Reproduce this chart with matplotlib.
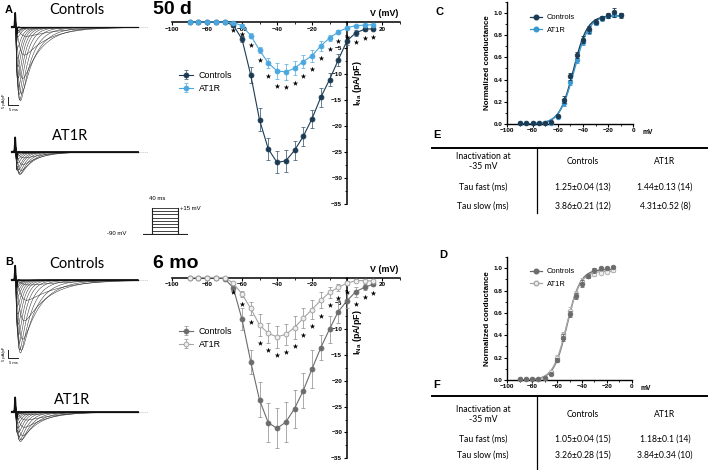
import numpy as np
import matplotlib
matplotlib.use("Agg")
import matplotlib.pyplot as plt
from matplotlib.lines import Line2D
from matplotlib.ticker import MultipleLocator, FixedLocator

# ---------------------------------------------------------------- data
volts = [-90, -85, -80, -75, -70, -65, -60, -55, -50, -45, -40, -35, -30,
         -25, -20, -15, -10, -5, 0, 5, 10, 15]

# panel A (50 d) I-V
a_ctrl = [0, 0, 0, 0, 0, -0.6, -3.3, -10.2, -18.8, -24.4, -27.0, -26.7, -24.7,
          -22.0, -18.6, -14.5, -11.1, -7.3, -3.6, -2.1, -1.4, -1.3]
a_ctrl_err = [0.1, 0.1, 0.1, 0.1, 0.1, 0.3, 0.6, 1.6, 2.2, 2.1, 2.1, 2.1, 1.9,
              1.8, 1.7, 1.8, 1.3, 1.1, 0.8, 0.5, 0.4, 0.3]
a_at1r = [0, 0, 0, 0, 0, -0.1, -0.7, -2.6, -5.4, -7.9, -9.4, -9.6, -8.9,
          -7.6, -6.5, -4.6, -3.1, -1.9, -1.1, -0.7, -0.6, -0.5]
a_at1r_err = [0.05, 0.05, 0.05, 0.05, 0.05, 0.1, 0.3, 0.5, 0.6, 1.0, 1.5, 1.5,
              1.35, 1.3, 1.1, 0.9, 0.6, 0.4, 0.3, 0.2, 0.2, 0.2]

# panel B (6 mo) I-V
b_ctrl = [0, 0, 0, 0, -0.2, -2.0, -8.1, -16.3, -23.7, -28.1, -29.2, -28.0, -25.4,
          -21.9, -17.7, -13.6, -10.0, -6.6, -4.5, -2.75, -1.9, -1.3]
b_ctrl_err = [0.1, 0.1, 0.1, 0.1, 0.2, 0.5, 2.1, 2.3, 3.4, 3.8, 3.9, 3.9, 3.7,
              3.4, 3.7, 2.4, 2.6, 2.3, 1.5, 1.0, 0.6, 0.4]
b_at1r = [0, 0, 0, 0, 0, -1.1, -3.2, -6.0, -9.2, -10.8, -11.5, -11.0, -9.7,
          -7.9, -6.2, -4.4, -2.9, -1.9, -1.1, -0.6, -0.6, -0.7]
b_at1r_err = [0.05, 0.05, 0.05, 0.05, 0.05, 0.3, 0.6, 1.3, 2.1, 1.9, 2.1, 2.0,
              2.2, 1.9, 1.8, 1.6, 1.1, 0.7, 0.4, 0.3, 0.2, 0.2]

# significant voltages (asterisks)
sig_volts = [-65, -60, -55, -50, -45, -40, -35, -30, -25, -20, -15, -10, -5,
             0, 5, 10, 15]

# representative-cell scaling of the example traces
trace_scale_a = [1.6, 1.4]
trace_scale_b = [1.47, 1.53]

# panel C conductance (50 d)
g_volts_c = [-90, -85, -80, -75, -70, -65, -60, -55, -50, -45, -40, -35, -30,
             -25, -20, -15, -10]
c_ctrl = [0.01, 0.01, 0.005, 0.005, 0.01, 0.02, 0.072, 0.22, 0.43, 0.62, 0.76,
          0.85, 0.92, 0.955, 0.976, 1.006, 0.976]
c_ctrl_err = [0.005, 0.005, 0.005, 0.005, 0.005, 0.005, 0.01, 0.03, 0.03, 0.03,
              0.03, 0.03, 0.02, 0.02, 0.02, 0.04, 0.02]
c_at1r = [0.005, 0.005, 0.005, 0.005, 0.005, 0.01, 0.06, 0.19, 0.38, 0.58, 0.74,
          0.84, 0.91, 0.95, 0.97, 0.98, 0.98]
c_at1r_err = [0.005, 0.005, 0.005, 0.005, 0.005, 0.005, 0.01, 0.03, 0.03, 0.03,
              0.03, 0.03, 0.02, 0.02, 0.02, 0.02, 0.02]
c_fit_ctrl = (-47.5, 5.5, 0.975)   # V1/2, k, Gmax
c_fit_at1r = (-46.8, 5.8, 0.975)

# panel D conductance (6 mo)
g_volts_d = [-90, -85, -80, -75, -70, -65, -60, -55, -50, -45, -40, -35, -30,
             -25, -20, -15]
d_ctrl = [0.01, 0.01, 0.01, 0.01, 0.015, 0.054, 0.18, 0.38, 0.59, 0.75, 0.86,
          0.93, 0.98, 1.0, 1.0, 1.01]
d_ctrl_err = [0.005, 0.005, 0.005, 0.005, 0.005, 0.01, 0.02, 0.03, 0.03, 0.03,
              0.03, 0.02, 0.02, 0.01, 0.01, 0.01]
d_at1r = [0.01, 0.01, 0.01, 0.01, 0.02, 0.07, 0.2, 0.40, 0.62, 0.77, 0.88, 0.93,
          0.95, 0.96, 0.97, 0.98]
d_at1r_err = [0.005, 0.005, 0.005, 0.005, 0.005, 0.01, 0.02, 0.03, 0.03, 0.03,
              0.03, 0.02, 0.02, 0.01, 0.01, 0.01]
d_fit_ctrl = (-51.9, 5.3, 0.99)
d_fit_at1r = (-52.3, 5.4, 0.975)

# tables
tbl_header = ["Inactivation at\n-35 mV", "Controls", "AT1R"]
tbl_rows = ["Tau fast (ms)", "Tau slow (ms)"]
tbl_e = [["1.25\u00b10.04 (13)", "1.44\u00b10.13 (14)"],
         ["3.86\u00b10.21 (12)", "4.31\u00b10.52 (8)"]]
tbl_f = [["1.05\u00b10.04 (15)", "1.18\u00b10.1 (14)"],
         ["3.26\u00b10.28 (15)", "3.84\u00b10.34 (10)"]]

# protocol
prot_hold = -90
prot_steps = [-77, -64, -51, -38, -25, -12, 2, 15]
prot_dur = 40

# ---------------------------------------------------------------- style
W, H = 709, 470
plt.rcParams["font.family"] = ["Liberation Sans", "DejaVu Sans"]
plt.rcParams["mathtext.fontset"] = "custom"
plt.rcParams["mathtext.rm"] = "Liberation Sans"
plt.rcParams["mathtext.bf"] = "Liberation Sans:bold"
plt.rcParams["axes.linewidth"] = 1.0

NAVY = "#1c3b53"
LBLUE = "#4aa8df"
CBLUE = "#3a97cf"
GREY = "#6c6c6c"
LGREY = "#a6a6a6"
OPENFACE = "#eeeeee"

fig = plt.figure(figsize=(W / 100, H / 100), dpi=100)


def rect(x0, y0, x1, y1):
    return [x0 / W, 1 - y1 / H, (x1 - x0) / W, (y1 - y0) / H]


def fx(x):
    return x / W


def fy(y):
    return 1 - y / H


# ---------------------------------------------------------------- traces
def draw_traces(box, baseline_px, amps, factor, scalebar, title, title_xy):
    x0, y0, x1, y1 = box
    pxms = 2.0
    pxu = 1.7
    ax = fig.add_axes(rect(x0, y0, x1, y1))
    ax.set_xlim((x0 - 15) / pxms, (x1 - 15) / pxms)
    ax.set_ylim(-(y1 - baseline_px) / pxu, (baseline_px - y0) / pxu)
    ax.axis("off")
    t = np.arange(-1.5, 61.5, 0.02)
    tp = np.clip(t, 0, None)
    art = 8.5 * np.exp(-((t - 0.1) / 0.3) ** 2) - 4.0 * np.exp(-((t - 0.8) / 0.3) ** 2)
    ax.plot([-1.0, 66.5], [0, 0], ls=(0, (1, 1.5)), color="#aaaaaa", lw=0.6, zorder=1)
    for V, a in zip(volts, amps):
        taum = 0.45 + 1.3 * np.exp(-(V + 60) / 20.0)
        tauh = min(1.8 + 14.0 * np.exp(-(V + 60) / 15.0), 22.0)
        g = (1 - np.exp(-tp / taum)) ** 3 * np.exp(-tp / tauh)
        g = g / g.max()
        y = a * factor * g + art
        ax.plot(t, y, color="#2a2a2a", lw=0.35, zorder=2)
    sel = t < 2.0
    ax.plot(t[sel], art[sel], color="#111", lw=1.1, zorder=3)
    ax.plot([-1.5, 0.0], [0, 0], color="#111", lw=1.6, zorder=3)
    ax.plot([1.5, 61.5], [0, 0], color="#111", lw=0.9, zorder=3)
    if scalebar:
        cx = (8.3 - 15) / pxms
        cy = -(scalebar - baseline_px) / pxu
        ax.plot([cx, cx, cx + 5], [cy + 5, cy, cy], color="#222", lw=0.7)
        ax.text(cx - 1.2, cy + 2.5, "5 pA/pF", rotation=90, fontsize=3.0,
                ha="right", va="center")
        ax.text(cx + 2.5, cy - 1.5, "5 ms", fontsize=3.0, ha="center", va="top")
    fig.text(fx(title_xy[0]), fy(title_xy[1]), title, fontsize=10.5,
             family=["Lato", "DejaVu Sans"], ha="center", va="center")


draw_traces((0, 3, 150, 112), 27.3, a_ctrl, trace_scale_a[0], 105,
            "Controls", (77, 10))
draw_traces((0, 128, 150, 185), 151.7, a_at1r, trace_scale_a[1], None,
            "AT1R", (70, 136))
draw_traces((0, 255, 150, 365), 280.0, b_ctrl, trace_scale_b[0], 358,
            "Controls", (77, 264))
draw_traces((0, 388, 150, 450), 411.7, b_at1r, trace_scale_b[1], None,
            "AT1R", (72, 400))

fig.text(fx(5), fy(10), "A", fontsize=8, fontweight="bold", va="center")
fig.text(fx(5), fy(262), "B", fontsize=8, fontweight="bold", va="center")

# ---------------------------------------------------------------- protocol
axp = fig.add_axes(rect(143, 204, 188, 235))
pxms_p = (178.3 - 151.7) / prot_dur
pxmv = (234 - 207.7) / (15 - prot_hold)
axp.set_xlim((143 - 151.7) / pxms_p, (188 - 151.7) / pxms_p)
axp.set_ylim(prot_hold - (235 - 234) / pxmv, 15 + (207.7 - 204) / pxmv)
axp.axis("off")
axp.plot([(143 - 151.7) / pxms_p, (186.7 - 151.7) / pxms_p], [prot_hold, prot_hold],
         color="#222", lw=0.8)
axp.plot([0, 0], [prot_hold, max(prot_steps)], color="#222", lw=0.8)
axp.plot([prot_dur, prot_dur], [prot_hold, max(prot_steps)], color="#222", lw=0.8)
for s in prot_steps:
    axp.plot([0, prot_dur], [s, s], color="#222", lw=0.6)
fig.text(fx(157), fy(198.5), "40 ms", fontsize=4.3, ha="center", va="center")
fig.text(fx(180), fy(209), "+15 mV", fontsize=4.3, ha="left", va="center")
fig.text(fx(117), fy(234), "-90 mV", fontsize=4.3, ha="center", va="center")


# ---------------------------------------------------------------- I-V panels
def iv_panel(box, ctrl, cerr, at1r, aerr, cstyle, astyle, title, title_y,
             legend_xy, ylabel_y, vlabel_y):
    ax = fig.add_axes(rect(*box))
    ax.set_xlim(-100, 30)
    ax.set_ylim(-35, 0)
    for s in ("top", "right"):
        ax.spines[s].set_visible(False)
    ax.spines["left"].set_position(("data", 0))
    ax.spines["bottom"].set_position(("data", 0))
    ax.spines["left"].set_linewidth(1.1)
    ax.spines["bottom"].set_linewidth(1.1)
    ax.patch.set_visible(False)
    ax.xaxis.set_major_locator(FixedLocator([-100, -80, -60, -40, -20, 20]))
    ax.xaxis.set_minor_locator(MultipleLocator(10))
    ax.yaxis.set_major_locator(FixedLocator([-35, -30, -25, -20, -15, -10, -5]))
    ax.yaxis.set_minor_locator(MultipleLocator(2.5))
    ax.tick_params(axis="both", which="major", length=2.5, width=0.8, pad=1,
                   labelsize=4.6)
    ax.tick_params(axis="both", which="minor", length=1.5, width=0.6)
    for lab in ax.get_xticklabels() + ax.get_yticklabels():
        lab.set_fontweight("bold")

    h1 = ax.errorbar(volts, ctrl, yerr=cerr, color=cstyle["line"], lw=0.8,
                     marker="o", ms=3.5, mfc=cstyle["face"], mec=cstyle["edge"],
                     mew=0.6, ecolor=cstyle["err"], elinewidth=0.6, capsize=1.4,
                     capthick=0.6, clip_on=False, zorder=3, label="Controls")
    h2 = ax.errorbar(volts, at1r, yerr=aerr, color=astyle["line"], lw=0.8,
                     marker="o", ms=3.5, mfc=astyle["face"], mec=astyle["edge"],
                     mew=0.6, ecolor=astyle["err"], elinewidth=0.6, capsize=1.4,
                     capthick=0.6, clip_on=False, zorder=4, label="AT1R")
    for art in (h1, h2):
        for c in art.get_children():
            c.set_clip_on(False)

    # asterisks
    sx, sy = [], []
    for v in sig_volts:
        i = volts.index(v)
        if v <= 0:
            yv = at1r[i] - aerr[i] - 1.4
        else:
            yv = ctrl[i] - cerr[i] - 1.3
        sx.append(v)
        sy.append(yv)
    ax.scatter(sx, sy, marker="*", s=17, color="black", lw=0, zorder=6,
               clip_on=False)

    ax.legend(handles=[h1, h2], loc="upper left",
              bbox_to_anchor=(fx(legend_xy[0]), fy(legend_xy[1])),
              bbox_transform=fig.transFigure, frameon=False, fontsize=6.4,
              handlelength=1.6, handletextpad=0.6, labelspacing=0.45,
              borderpad=0, borderaxespad=0)

    fig.text(fx(153), fy(title_y), title, fontsize=14, fontweight="bold",
             ha="left", va="center")
    fig.text(fx(384), fy(vlabel_y), "V (mV)", fontsize=6.4, fontweight="bold",
             ha="center", va="center")
    fig.text(fx(358), fy(ylabel_y), r"$\mathbf{I_{Na}}$ (pA/pF)", fontsize=6.4,
             fontweight="bold", rotation=90, ha="center", va="center")
    return ax


iv_panel((172, 22, 399.5, 204), a_ctrl, a_ctrl_err, a_at1r, a_at1r_err,
         dict(line=NAVY, face=NAVY, edge=NAVY, err="#4d6a80"),
         dict(line=LBLUE, face=LBLUE, edge=LBLUE, err="#6bb7e4"),
         "50 d", 10, (179, 71), 83, 13)
iv_panel((172, 277.5, 399.5, 458.3), b_ctrl, b_ctrl_err, b_at1r, b_at1r_err,
         dict(line=GREY, face=GREY, edge=GREY, err="#9c9c9c"),
         dict(line=LGREY, face=OPENFACE, edge="#9a9a9a", err="#9c9c9c"),
         "6 mo", 264, (179, 327), 332, 270)


# ---------------------------------------------------------------- conductance
def boltz(v, p):
    vh, k, gmax = p
    return gmax / (1 + np.exp((vh - v) / k))


def g_panel(box, xv, ctrl, cerr, at1r, aerr, fits, cstyle, astyle, label,
            label_xy, legend_xy):
    ax = fig.add_axes(rect(*box))
    ax.set_xlim(-100, 0)
    ax.set_ylim(0, 1.1)
    for s in ("top", "right"):
        ax.spines[s].set_visible(False)
    ax.spines["left"].set_linewidth(1.0)
    ax.spines["bottom"].set_linewidth(1.0)
    ax.patch.set_visible(False)
    ax.xaxis.set_major_locator(MultipleLocator(20))
    ax.xaxis.set_minor_locator(MultipleLocator(10))
    ax.yaxis.set_major_locator(FixedLocator([0, 0.2, 0.4, 0.6, 0.8, 1.0]))
    ax.yaxis.set_minor_locator(MultipleLocator(0.1))
    ax.set_yticklabels(["0.0", "0.2", "0.4", "0.6", "0.8", "1.0"])
    ax.tick_params(axis="both", which="major", length=2.2, width=0.8, pad=1,
                   labelsize=4.6)
    ax.tick_params(axis="both", which="minor", length=1.3, width=0.6)
    for lab in ax.get_xticklabels() + ax.get_yticklabels():
        lab.set_fontweight("bold")
    ax.set_ylabel("Normalized conductance", fontsize=5.8, fontweight="bold",
                  labelpad=2)
    vv = np.linspace(xv[0], xv[-1], 300)
    ax.plot(vv, boltz(vv, fits[0]), color=cstyle["line"], lw=1.0, zorder=2,
            clip_on=False)
    ax.plot(vv, boltz(vv, fits[1]), color=astyle["line"], lw=1.0, zorder=2,
            clip_on=False)
    ax.errorbar(xv, at1r, yerr=aerr, ls="none", marker="o", ms=3.3,
                mfc=astyle["face"], mec=astyle["edge"], mew=0.6,
                ecolor=astyle["err"], elinewidth=0.6, capsize=1.2,
                capthick=0.6, zorder=3, clip_on=False)
    ax.errorbar(xv, ctrl, yerr=cerr, ls="none", marker="o", ms=3.3,
                mfc=cstyle["face"], mec=cstyle["edge"], mew=0.6,
                ecolor=cstyle["err"], elinewidth=0.6, capsize=1.2,
                capthick=0.6, zorder=4, clip_on=False)
    hc = Line2D([], [], color=cstyle["line"], lw=0.9, marker="o", ms=3.3,
                mfc=cstyle["face"], mec=cstyle["edge"])
    ha = Line2D([], [], color=astyle["line"], lw=0.9, marker="o", ms=3.3,
                mfc=astyle["face"], mec=astyle["edge"])
    ax.legend(handles=[hc, ha], labels=["Controls", "AT1R"], loc="upper left",
              bbox_to_anchor=(fx(legend_xy[0]), fy(legend_xy[1])),
              bbox_transform=fig.transFigure, frameon=False, fontsize=5.4,
              handlelength=1.6, handletextpad=0.6, labelspacing=0.7,
              borderpad=0, borderaxespad=0)
    fig.text(fx(box[2] + 9), fy(box[3] + 9), "mV", fontsize=4.8,
             fontweight="bold", ha="left", va="center")
    fig.text(fx(label_xy[0]), fy(label_xy[1]), label, fontsize=8,
             fontweight="bold", ha="left", va="center")
    return ax


g_panel((507.3, 1.7, 633.3, 124), g_volts_c, c_ctrl, c_ctrl_err, c_at1r,
        c_at1r_err, (c_fit_ctrl, c_fit_at1r),
        dict(line=NAVY, face=NAVY, edge=NAVY, err=NAVY),
        dict(line=CBLUE, face=CBLUE, edge=CBLUE, err=CBLUE),
        "C", (435, 12), (530, 14))
g_panel((507.3, 257, 631.7, 380), g_volts_d, d_ctrl, d_ctrl_err, d_at1r,
        d_at1r_err, (d_fit_ctrl, d_fit_at1r),
        dict(line=GREY, face=GREY, edge=GREY, err=GREY),
        dict(line=LGREY, face=OPENFACE, edge="#a8a8a8", err="#b0b0b0"),
        "D", (439, 255), (530, 268))


# ---------------------------------------------------------------- tables
def table(label, label_y, top, bottom, hdr_y, row_ys, values):
    fig.text(fx(433), fy(label_y), label, fontsize=8, fontweight="bold",
             ha="left", va="center")
    fig.add_artist(Line2D([fx(432), fx(707)], [fy(top), fy(top)], color="black",
                          lw=1.4, transform=fig.transFigure))
    fig.add_artist(Line2D([fx(537.3), fx(537.3)], [fy(top), fy(bottom)],
                          color="black", lw=0.9, transform=fig.transFigure))
    tfont = ["Lato", "DejaVu Sans"]
    fig.text(fx(483), fy(hdr_y), tbl_header[0], fontsize=6.2, family=tfont,
             ha="center", va="center", linespacing=1.25)
    fig.text(fx(583), fy(hdr_y), tbl_header[1], fontsize=6.2, family=tfont,
             ha="center", va="center")
    fig.text(fx(665), fy(hdr_y), tbl_header[2], fontsize=6.2, family=tfont,
             ha="center", va="center")
    for r, yv in enumerate(row_ys):
        fig.text(fx(483), fy(yv), tbl_rows[r], fontsize=6.2, family=tfont,
                 ha="center", va="center")
        fig.text(fx(583), fy(yv), values[r][0], fontsize=6.2, family=tfont,
                 ha="center", va="center")
        fig.text(fx(665), fy(yv), values[r][1], fontsize=6.2, family=tfont,
                 ha="center", va="center")


table("E", 135, 147.5, 213, 161.5, (187.5, 206.5), tbl_e)
table("F", 385, 396, 470, 414.5, (439, 455), tbl_f)

fig.savefig("out.png", dpi=100)
